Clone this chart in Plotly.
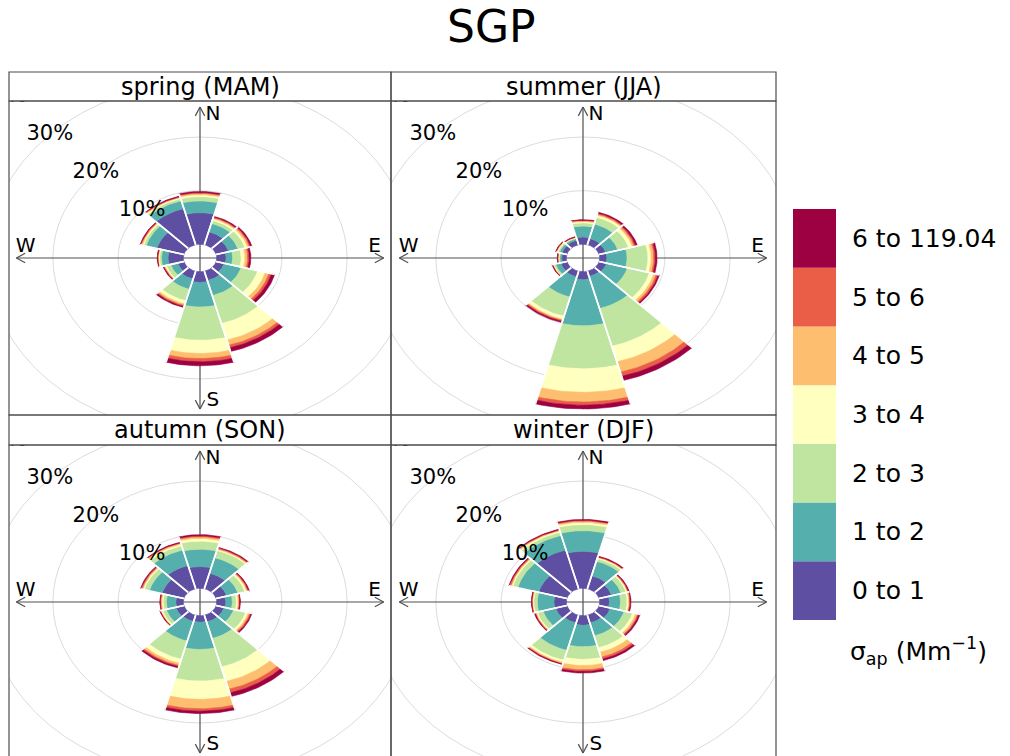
import numpy as np
import plotly.graph_objects as go

TITLE = "SGP"
SECTORS = [0, 30, 60, 90, 120, 150, 180, 210, 240, 270, 300, 330]
BIN_LABELS = ["0 to 1", "1 to 2", "2 to 3", "3 to 4", "4 to 5", "5 to 6", "6 to 119.04"]
BIN_COLORS = ["#5E4FA2", "#55AFAD", "#BFE5A0", "#FFFFBF", "#FDBF6F", "#EA5D47", "#9E0142"]
PANEL_TITLES = ["spring (MAM)", "summer (JJA)", "autumn (SON)", "winter (DJF)"]
GRID_STEPS = [10, 20, 30, 40]
GRID_LABELS = ["10%", "20%", "30%", "40%"]
COMPASS = ["N", "E", "S", "W"]
LEGEND_TITLE = "σ<sub>ap</sub> (Mm<sup>−1</sup>)"

# frequency (%) per sector (rows follow SECTORS), split by concentration bin (columns follow BIN_LABELS)
spring = [
    [5.9, 2.2, 0.8, 0.35, 0.25, 0.15, 0.2],
    [2.5, 1.6, 0.6, 0.3, 0.2, 0.15, 0.15],
    [2.0, 1.5, 1.1, 0.4, 0.3, 0.2, 0.2],
    [1.45, 1.0, 1.3, 0.6, 0.4, 0.25, 0.25],
    [1.3, 2.7, 2.6, 1.2, 0.6, 0.4, 0.5],
    [1.8, 2.9, 5.4, 3.2, 1.0, 0.5, 0.7],
    [2.0, 4.6, 6.2, 2.45, 0.95, 0.6, 0.75],
    [1.5, 2.0, 2.2, 0.6, 0.3, 0.2, 0.2],
    [1.0, 1.1, 0.7, 0.2, 0.1, 0.1, 0.1],
    [2.35, 1.0, 0.3, 0.15, 0.1, 0.05, 0.05],
    [4.3, 1.7, 0.4, 0.2, 0.15, 0.1, 0.1],
    [7.0, 1.5, 0.4, 0.2, 0.1, 0.1, 0.1],
]
summer = [
    [1.35, 2.05, 0.6, 0.25, 0.15, 0.1, 0.1],
    [1.2, 2.8, 1.3, 0.4, 0.2, 0.2, 0.2],
    [1.1, 1.9, 1.7, 0.6, 0.3, 0.25, 0.25],
    [1.1, 3.1, 3.2, 0.5, 0.4, 0.25, 0.25],
    [1.2, 3.3, 3.5, 0.7, 0.4, 0.3, 0.2],
    [1.0, 6.2, 7.3, 3.0, 2.0, 0.8, 0.8],
    [1.5, 8.6, 8.0, 4.4, 1.8, 0.6, 0.7],
    [1.1, 3.9, 3.7, 0.6, 0.2, 0.2, 0.2],
    [1.0, 0.8, 0.3, 0.1, 0.05, 0.05, 0.05],
    [0.7, 0.3, 0.15, 0.1, 0.05, 0.05, 0.05],
    [0.8, 0.4, 0.25, 0.15, 0.1, 0.05, 0.05],
    [0.9, 0.3, 0.15, 0.1, 0.05, 0.05, 0.05],
]
autumn = [
    [4.05, 3.25, 1.5, 0.5, 0.3, 0.2, 0.2],
    [3.0, 3.0, 1.4, 0.2, 0.15, 0.15, 0.1],
    [1.7, 1.8, 1.1, 0.3, 0.15, 0.15, 0.1],
    [1.4, 1.0, 0.65, 0.25, 0.15, 0.1, 0.1],
    [1.3, 1.5, 1.9, 0.4, 0.25, 0.2, 0.15],
    [1.3, 3.2, 5.5, 2.8, 1.5, 0.7, 0.7],
    [1.2, 5.1, 5.9, 3.4, 1.75, 0.45, 0.45],
    [1.2, 3.8, 3.5, 0.8, 0.4, 0.25, 0.25],
    [1.3, 1.5, 0.6, 0.2, 0.1, 0.05, 0.05],
    [1.15, 1.45, 0.5, 0.2, 0.15, 0.1, 0.05],
    [3.5, 2.0, 0.8, 0.2, 0.15, 0.15, 0.1],
    [4.5, 3.0, 0.8, 0.3, 0.2, 0.1, 0.1],
]
winter = [
    [6.9, 3.85, 1.15, 0.4, 0.25, 0.15, 0.15],
    [2.5, 2.8, 0.5, 0.2, 0.1, 0.1, 0.1],
    [2.0, 1.5, 0.8, 0.2, 0.1, 0.1, 0.1],
    [1.5, 1.7, 1.0, 0.25, 0.15, 0.1, 0.1],
    [1.8, 2.2, 1.3, 0.5, 0.3, 0.2, 0.2],
    [1.5, 2.5, 2.3, 0.9, 0.9, 0.4, 0.3],
    [1.8, 4.0, 2.35, 1.15, 0.8, 0.3, 0.3],
    [1.5, 5.3, 1.9, 0.4, 0.2, 0.1, 0.1],
    [1.8, 2.0, 0.9, 0.2, 0.1, 0.1, 0.1],
    [1.9, 2.55, 0.55, 0.15, 0.1, 0.05, 0.05],
    [4.5, 3.3, 0.8, 0.2, 0.15, 0.15, 0.1],
    [7.5, 2.8, 0.6, 0.25, 0.15, 0.1, 0.1],
]
SEASON_DATA = [spring, summer, autumn, winter]

# ---- page geometry (pixels) ----
W, H = 1010, 756
FONT = "DejaVu Sans"
COLS = [(9, 391, 200), (391, 776, 583)]            # left, right, centre x
ROWS = [(72, 101, 415, 258), (415, 445, 759, 602)]  # strip top, plot top, plot bottom, centre y

cums = [np.cumsum(np.array(d, dtype=float), axis=1) for d in SEASON_DATA]
max_freq = max(c[:, -1].max() for c in cums)
off = 0.1 * max_freq          # size of the central hole
mymax = max_freq + off
lim = 1.04 * mymax
kx = (COLS[0][1] - COLS[0][0]) / 2 / lim   # px per unit, horizontal
ky = (ROWS[0][2] - ROWS[0][1]) / 2 / lim   # px per unit, vertical

HALF = 15.0
ARC = np.linspace(-HALF, HALF, 19)


def wedge(theta, r0, r1):
    a = np.radians(theta + ARC)
    xs = np.concatenate([r1 * np.sin(a), r0 * np.sin(a[::-1])])
    ys = np.concatenate([r1 * np.cos(a), r0 * np.cos(a[::-1])])
    return list(np.append(xs, xs[0])), list(np.append(ys, ys[0]))


fig = go.Figure()
layout = dict(width=W, height=H, margin=dict(l=0, r=0, t=0, b=0),
              paper_bgcolor="white", plot_bgcolor="white", showlegend=False)
shapes, annotations = [], []

for i, (title, cum) in enumerate(zip(PANEL_TITLES, cums)):
    row, col = divmod(i, 2)
    left, right, cx = COLS[col]
    stop, ptop, pbot, cy = ROWS[row]
    pbot_vis = min(pbot, H)
    sfx = "" if i == 0 else str(i + 1)
    xa, ya = "x" + sfx, "y" + sfx
    layout["xaxis" + sfx] = dict(domain=[left / W, right / W],
                                 range=[(left - cx) / kx, (right - cx) / kx],
                                 visible=False, fixedrange=True, anchor=ya)
    layout["yaxis" + sfx] = dict(domain=[max(0.0, 1 - pbot_vis / H), 1 - ptop / H],
                                 range=[(cy - pbot_vis) / ky, (cy - ptop) / ky],
                                 visible=False, fixedrange=True, anchor=xa)

    # grid rings
    for step in GRID_STEPS:
        r = off + step
        shapes.append(dict(type="circle", xref=xa, yref=ya, x0=-r, x1=r, y0=-r, y1=r,
                           line=dict(color="#DCDCDC", width=1), layer="below"))
    # compass axes with open arrowheads at both ends
    ax_c = "#505050"
    shapes.append(dict(type="line", xref=xa, yref=ya, x0=-mymax, x1=mymax, y0=0, y1=0,
                       line=dict(color=ax_c, width=1.2), layer="below"))
    shapes.append(dict(type="line", xref=xa, yref=ya, x0=0, x1=0, y0=-mymax, y1=mymax,
                       line=dict(color=ax_c, width=1.2), layer="below"))
    alen, aang = 10.0, np.radians(28)
    along, across = alen * np.cos(aang), alen * np.sin(aang)
    for sx in (-1, 1):
        for sd in (-1, 1):
            shapes.append(dict(type="line", xref=xa, yref=ya, x0=sx * mymax, y0=0,
                               x1=sx * (mymax - along / kx), y1=sd * across / ky,
                               line=dict(color=ax_c, width=1.2), layer="below"))
            shapes.append(dict(type="line", xref=xa, yref=ya, x0=0, y0=sx * mymax,
                               x1=sd * across / kx, y1=sx * (mymax - along / ky),
                               line=dict(color=ax_c, width=1.2), layer="below"))

    # compass letters sit underneath the petals
    d = 0.07 * mymax
    e = 0.95 * mymax
    fig.add_trace(go.Scatter(
        x=[d, e, d, -e], y=[e, d, -e, d], mode="text", text=COMPASS,
        textposition="middle center", textfont=dict(family=FONT, size=20, color="black"),
        hoverinfo="skip", xaxis=xa, yaxis=ya))

    # stacked petals, one trace per concentration bin
    for j, colr in enumerate(BIN_COLORS):
        px, py = [], []
        for k, theta in enumerate(SECTORS):
            r0 = off + (cum[k, j - 1] if j > 0 else 0.0)
            r1 = off + cum[k, j]
            if r1 - r0 <= 0:
                continue
            wx, wy = wedge(theta, r0, r1)
            px += wx + [None]
            py += wy + [None]
        fig.add_trace(go.Scatter(x=px, y=py, mode="lines", fill="toself", fillcolor=colr,
                                 line=dict(color=colr, width=0.6), hoverinfo="skip",
                                 xaxis=xa, yaxis=ya))

    # white separators between neighbouring petals
    sx_, sy_ = [], []
    for k, theta in enumerate(SECTORS):
        r1 = off + cum[k, -1]
        for edge in (theta - HALF, theta + HALF):
            a = np.radians(edge)
            sx_ += [off * np.sin(a), r1 * np.sin(a), None]
            sy_ += [off * np.cos(a), r1 * np.cos(a), None]
    fig.add_trace(go.Scatter(x=sx_, y=sy_, mode="lines", line=dict(color="white", width=1.6),
                             hoverinfo="skip", xaxis=xa, yaxis=ya))

    # ring labels along the upper-left diagonal, drawn over the petals
    ang = np.radians(315)
    fig.add_trace(go.Scatter(
        x=[(off + s) * np.sin(ang) for s in GRID_STEPS],
        y=[(off + s) * np.cos(ang) for s in GRID_STEPS],
        mode="text", text=GRID_LABELS, textposition="middle center",
        textfont=dict(family=FONT, size=21, color="black"),
        hoverinfo="skip", xaxis=xa, yaxis=ya))

    # panel frame and strip
    fc = "#4D4D4D"
    shapes.append(dict(type="rect", xref="paper", yref="paper", x0=left / W, x1=right / W,
                       y0=1 - pbot / H, y1=1 - ptop / H, line=dict(color=fc, width=1.2)))
    shapes.append(dict(type="rect", xref="paper", yref="paper", x0=left / W, x1=right / W,
                       y0=1 - ptop / H, y1=1 - stop / H, line=dict(color=fc, width=1.2)))
    annotations.append(dict(text=title, xref="paper", yref="paper",
                            x=(left + right) / 2 / W, y=1 - (stop + ptop) / 2 / H,
                            xanchor="center", yanchor="middle", showarrow=False,
                            font=dict(family=FONT, size=24, color="black")))

# title
annotations.append(dict(text=TITLE, xref="paper", yref="paper", x=491 / W, y=1 - 27 / H,
                        xanchor="center", yanchor="middle", showarrow=False,
                        font=dict(family=FONT, size=44, color="black")))

# colour key
key_x0, key_x1, key_top, key_bot = 793, 836, 209, 620
kh = (key_bot - key_top) / len(BIN_COLORS)
for j, (colr, lab) in enumerate(zip(BIN_COLORS, BIN_LABELS)):
    yb = key_bot - j * kh
    yt = yb - kh
    shapes.append(dict(type="rect", xref="paper", yref="paper", x0=key_x0 / W, x1=key_x1 / W,
                       y0=1 - yb / H, y1=1 - yt / H, fillcolor=colr, line=dict(width=0)))
    annotations.append(dict(text=lab, xref="paper", yref="paper", x=850 / W,
                            y=1 - (yb + yt) / 2 / H, xanchor="left", yanchor="middle",
                            showarrow=False, font=dict(family=FONT, size=25, color="black")))
annotations.append(dict(text=LEGEND_TITLE, xref="paper", yref="paper", x=848 / W, y=1 - 651 / H,
                        xanchor="left", yanchor="middle", showarrow=False,
                        font=dict(family=FONT, size=25, color="black")))

layout["shapes"] = shapes
layout["annotations"] = annotations
fig.update_layout(**layout)
fig.write_html("out.html")
